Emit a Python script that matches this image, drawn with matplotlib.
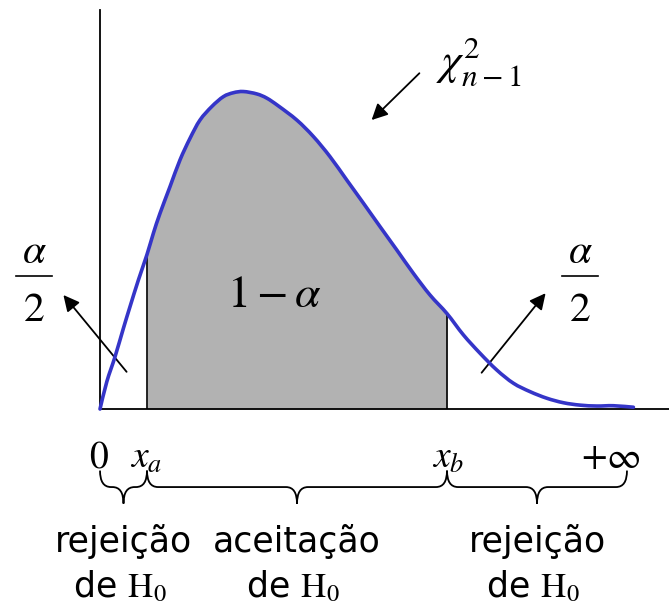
import matplotlib
matplotlib.use("Agg")
import matplotlib.pyplot as plt
from matplotlib.path import Path
from matplotlib.patches import PathPatch
import numpy as np

plt.rcParams['mathtext.fontset'] = 'stix'

# density curve (x in arbitrary units, y = density)
curve_x = [0.0, 0.34, 0.75, 1.17, 1.5, 1.92, 2.35, 2.67, 3.0, 3.5, 4.0, 4.5,
           5.0, 5.59, 6.17, 6.67, 7.17, 7.84, 8.34, 8.92, 9.84, 10.67, 11.5,
           12.34, 13.17, 14.0, 14.84, 15.67, 16.5, 17.35, 18.17, 19.0, 19.84,
           20.67, 21.5, 22.34, 23.17, 24.0, 24.84, 25.67, 26.67]
curve_y = [0.0, 0.0091, 0.0174, 0.0269, 0.0341, 0.0430, 0.0515, 0.0586,
           0.0652, 0.0741, 0.0830, 0.0902, 0.0963, 0.1008, 0.1041, 0.1054,
           0.1058, 0.1050, 0.1036, 0.1010, 0.0963, 0.0908, 0.0841, 0.0763,
           0.0686, 0.0608, 0.0530, 0.0452, 0.0380, 0.0318, 0.0247, 0.0186,
           0.0130, 0.0086, 0.0058, 0.0036, 0.0021, 0.0013, 0.0010, 0.0011,
           0.0006]

# critical values
x_a = 2.35
x_b = 17.35
x_end = 26.35

tick_labels = [r'$0$', r'$x_a$', r'$x_b$', r'$+\infty$']
tick_pos = [-0.05, 2.3, 17.4, 25.55]
region_top = ['rejeição', 'aceitação', 'rejeição']
region_bottom = [r'de $\mathrm{H}_0$', r'de $\mathrm{H}_0$', r'de $\mathrm{H}_0$']
region_bounds = [(0.0, x_a), (x_a, x_b), (x_b, x_end)]


def smooth_path(xs, ys):
    """
    Catmull-Rom through the read points, as cubic bezier segments.
    """
    pts = np.column_stack([xs, ys])
    verts = [pts[0]]
    codes = [Path.MOVETO]
    n = len(pts)
    for i in range(n - 1):
        p0 = pts[max(i - 1, 0)]
        p1 = pts[i]
        p2 = pts[i + 1]
        p3 = pts[min(i + 2, n - 1)]
        verts += [p1 + (p2 - p0) / 6, p2 - (p3 - p1) / 6, p2]
        codes += [Path.CURVE4] * 3
    return Path(verts, codes)


def draw_brace(ax, x0, x1, y_top, y_mid, y_tip, r):
    xm = (x0 + x1) / 2
    verts = [(x0, y_top), (x0, y_mid), (x0 + r, y_mid),
             (xm - r, y_mid), (xm, y_mid), (xm, y_tip),
             (xm, y_mid), (xm + r, y_mid),
             (x1 - r, y_mid), (x1, y_mid), (x1, y_top)]
    codes = [Path.MOVETO, Path.CURVE3, Path.CURVE3,
             Path.LINETO, Path.CURVE3, Path.CURVE3,
             Path.CURVE3, Path.CURVE3,
             Path.LINETO, Path.CURVE3, Path.CURVE3]
    ax.add_patch(PathPatch(Path(verts, codes), fill=False, lw=1.3, color='black'))


def main():
    cx = np.array(curve_x)
    cy = np.array(curve_y)

    fig = plt.figure(figsize=(6.69, 6.14), dpi=100)
    ax = fig.add_axes([0, 0, 1, 1])
    ax.set_xlim(-5, 28.45)
    ax.set_ylim(-0.0683, 0.1363)
    ax.axis('off')

    # shaded acceptance area
    mask = (cx >= x_a) & (cx <= x_b)
    ax.fill_between(cx[mask], 0, cy[mask], color='#b2b2b2', lw=0, zorder=1)
    ax.vlines([x_a, x_b], 0, [cy[cx == x_a][0], cy[cx == x_b][0]],
              color='black', lw=1.2, zorder=2)

    # axes
    ax.plot([0, 0], [0, 0.133], color='black', lw=1.3, zorder=3)
    ax.plot([0, 28.45], [0, 0], color='black', lw=1.3, zorder=3)

    ax.add_patch(PathPatch(smooth_path(cx, cy), fill=False, color='#3535c8',
                           lw=2.6, zorder=4, capstyle='round'))

    # labels inside
    ax.text(8.7, 0.0383, r'$1-\alpha$', fontsize=33, ha='center', va='center')
    ax.text(16.8, 0.1157, r'$\chi^2_{n-1}$', fontsize=32, ha='left', va='center')

    for xc in (-3.3, 24.0):
        ax.text(xc, 0.0525, r'$\alpha$', fontsize=30, ha='center', va='center')
        ax.plot([xc - 0.88, xc + 0.88], [0.0443, 0.0443], color='black', lw=1.2)
        ax.text(xc, 0.0335, r'$2$', fontsize=30, ha='center', va='center')

    arrow = dict(arrowstyle='-|>', color='black', lw=1.3, mutation_scale=24,
                 shrinkA=0, shrinkB=0)
    ax.annotate('', xy=(-1.83, 0.038), xytext=(1.33, 0.0124), arrowprops=arrow)
    ax.annotate('', xy=(22.28, 0.0386), xytext=(19.08, 0.0121), arrowprops=arrow)
    ax.annotate('', xy=(13.58, 0.0963), xytext=(15.97, 0.1119), arrowprops=arrow)

    # ticks under the axis
    for lbl, xp in zip(tick_labels, tick_pos):
        ax.text(xp, -0.0195, lbl, fontsize=27, ha='center', va='baseline')

    for (x0, x1), top, bottom in zip(region_bounds, region_top, region_bottom):
        draw_brace(ax, x0, x1, -0.0205, -0.026, -0.0315, 0.55)
        xm = (x0 + x1) / 2
        ax.text(xm, -0.0477, top, fontsize=25, ha='center', va='baseline',
                family='DejaVu Sans')
        ax.text(xm - 0.2, -0.0627, bottom, fontsize=25, ha='center',
                va='baseline', family='DejaVu Sans')

    fig.savefig('out.png', dpi=100)


if __name__ == "__main__":
    main()
